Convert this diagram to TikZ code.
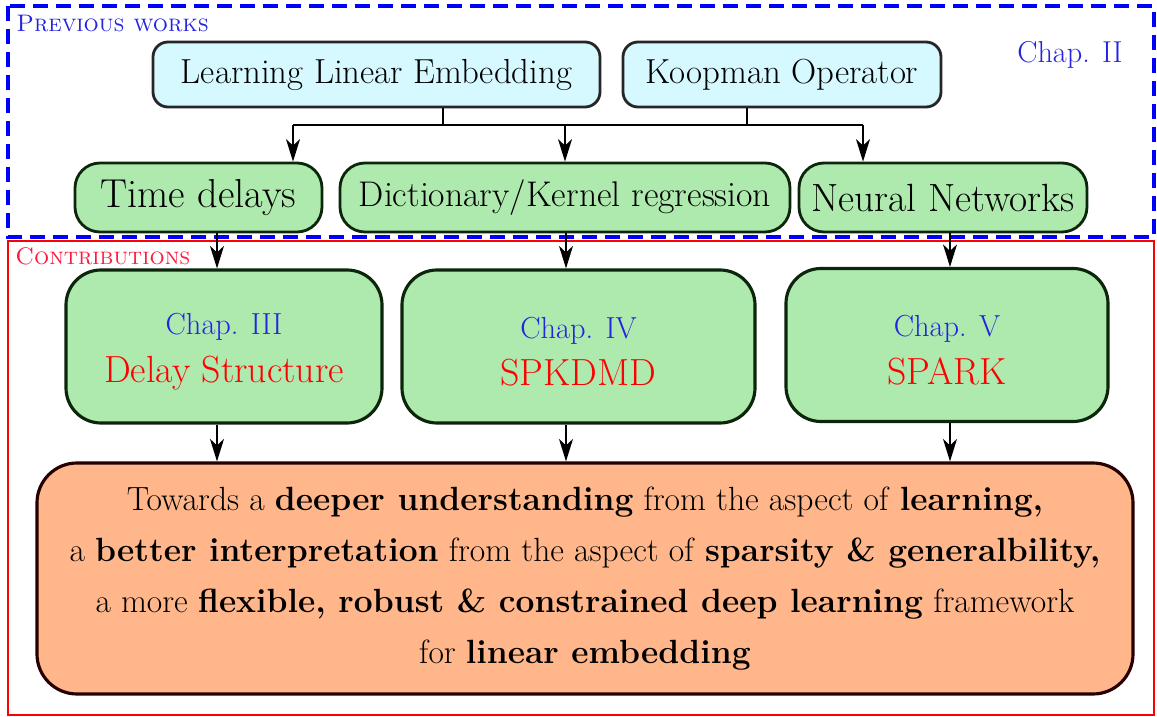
\documentclass[tikz,border=0pt]{standalone}
\usepackage{amsmath}
\usepackage{fontspec}
\usepackage{tikz}
\usetikzlibrary{arrows.meta, positioning, calc}

\definecolor{boxcyan}{RGB}{214,248,255}
\definecolor{boxgreen}{RGB}{174,233,174}
\definecolor{boxorange}{RGB}{255,182,138}
\definecolor{chapblue}{RGB}{35,35,225}
\definecolor{edgegreen}{RGB}{12,38,12}
\definecolor{contribred}{RGB}{255,25,60}

\begin{document}
\begin{tikzpicture}[
    x=0.2mm, y=-0.2mm,
    prevbox/.style={rectangle, draw=black!85, fill=boxcyan, line width=1.6pt, rounded corners=3mm, align=center, inner sep=0pt, font=\fontsize{19.8}{24}\selectfont},
    methodbox/.style={rectangle, draw=edgegreen, fill=boxgreen, line width=1.6pt, rounded corners=5mm, align=center, inner sep=0pt},
    chapbox/.style={rectangle, draw=edgegreen, fill=boxgreen, line width=1.8pt, rounded corners=7mm, align=center, inner sep=0pt, font=\fontsize{21.5}{27}\selectfont},
    goalbox/.style={rectangle, draw=black!85!red, fill=boxorange, line width=1.8pt, rounded corners=8mm, align=center, inner sep=0pt, font=\fontsize{19.1}{29}\selectfont},
    link/.style={line width=0.9pt},
    arrow/.style={-{Stealth[length=4.5mm, width=2.8mm, inset=1.3mm]}, line width=0.9pt}
]
\useasboundingbox (0,0) rectangle (1157,717);

% frames
\draw [blue, line width=2pt, dash pattern=on 3mm off 1.6mm] (8,6) rectangle (1154,237);
\draw [red, line width=1.4pt] (8,241) rectangle (1154,715);
\node (prevlabel) [anchor=base west, inner sep=0pt, text=chapblue, font=\fontsize{13.6}{16}\selectfont\scshape] at (16,32) {Previous works};
\node (contriblabel) [anchor=base west, inner sep=0pt, text=contribred, font=\fontsize{13.6}{16}\selectfont\scshape] at (15,265) {Contributions};
\node (chap2) [text=chapblue, font=\fontsize{17.2}{20}\selectfont] at (1070,55) {Chap. II};

% previous works
\node (lle) [prevbox, minimum width=89.4mm, minimum height=13mm] at (376.5,74.5) {Learning Linear Embedding};
\node (koop) [prevbox, minimum width=63.6mm, minimum height=13mm] at (782,74.5) {Koopman Operator};
\node (delays) [methodbox, minimum width=49.4mm, minimum height=13.8mm, font=\fontsize{23}{27}\selectfont] at (198.5,197.5) {Time delays};
\node (dict) [methodbox, minimum width=90mm, minimum height=13.8mm, font=\fontsize{20.3}{24}\selectfont] at (565,197.5) {Dictionary/Kernel regression};
\node (nn) [methodbox, minimum width=57.6mm, minimum height=13.8mm, font=\fontsize{22.4}{26}\selectfont] at (943,197.5) {Neural Networks};

% contributions
\node (ch3) [chapbox, minimum width=63.2mm, minimum height=30.6mm] at (224,346.5) {{\fontsize{17.3}{20}\selectfont\color{chapblue}\rule{0pt}{18pt}Chap. III}\\\textcolor{red}{Delay Structure}};
\node (ch4) [chapbox, minimum width=70.6mm, minimum height=30.6mm] at (578.5,346.5) {{\fontsize{17.3}{20}\selectfont\color{chapblue}\rule{0pt}{18pt}Chap. IV}\\\textcolor{red}{SPKDMD}};
\node (ch5) [chapbox, minimum width=64.4mm, minimum height=30.6mm] at (947,345) {{\fontsize{17.3}{20}\selectfont\color{chapblue}\rule{0pt}{18pt}Chap. V}\\\textcolor{red}{SPARK}};
\node (goal) [goalbox, minimum width=219.2mm, minimum height=46.2mm] at (585,578.5) {Towards a \textbf{deeper understanding} from the aspect of \textbf{learning,}\\
a \textbf{better interpretation} from the aspect of \textbf{sparsity \& generalbility,}\\
a more \textbf{flexible, robust \& constrained deep learning} framework\\
for \textbf{linear embedding}};

% connectors
\coordinate (lletap) at (443,125);
\coordinate (kooptap) at (747,125);
\coordinate (busL) at (293,125);
\coordinate (busR) at (863,125);
\coordinate (col1) at (217,0);
\coordinate (col2) at (566,0);
\coordinate (col3) at (950,0);
\draw [link] (lle.south -| lletap) -- (lletap);
\draw [link] (koop.south -| kooptap) -- (kooptap);
\draw [link] (busL) -- (busR);
\draw [arrow] (busL) -- (busL |- delays.north);
\draw [arrow] (lletap -| dict.north) -- (dict.north);
\draw [arrow] (busR) -- (busR |- nn.north);
\draw [arrow] (delays.south -| col1) -- (ch3.north -| col1);
\draw [arrow] (dict.south -| col2) -- (ch4.north -| col2);
\draw [arrow] (nn.south -| col3) -- (ch5.north -| col3);
\draw [arrow] (ch3.south -| col1) -- (goal.north -| col1);
\draw [arrow] (ch4.south -| col2) -- (goal.north -| col2);
\draw [arrow] (ch5.south -| col3) -- (goal.north -| col3);
\end{tikzpicture}
\end{document}
